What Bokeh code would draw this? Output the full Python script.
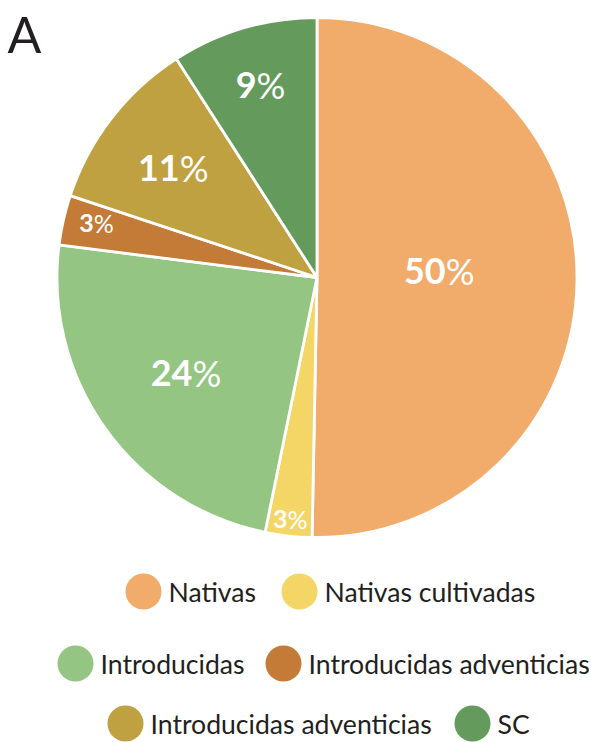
import numpy as np
from bokeh.plotting import figure
from bokeh.models import Range1d
from bokeh.embed import file_html
from bokeh.resources import INLINE
from bokeh.core.properties import value

# ---- data ----
categories = ["Nativas", "Nativas cultivadas", "Introducidas",
              "Introducidas adventicias", "Introducidas adventicias", "SC"]
percent = [50.3, 2.9, 23.8, 3.1, 10.8, 9.1]
colors = ["#F1AC6B", "#F4D667", "#94C582", "#C47B37", "#BFA142", "#659A5D"]
panel_label = "A"

# ---- layout ----
W, H = 591, 742
FONT = "Lato"
TXT = "#231F20"

def Y(img_y):  # image pixel row -> data y
    return H - img_y

p = figure(width=W, height=H, x_range=Range1d(0, W), y_range=Range1d(0, H),
           output_backend="svg", toolbar_location=None, min_border=0)
p.axis.visible = False
p.grid.visible = False
p.outline_line_color = None

cx, cy, R = 316.5, Y(277), 260
frac = np.array(percent, dtype=float) / sum(percent)
cum = np.cumsum(frac)
start = np.pi / 2 - 2 * np.pi * cum
end = np.pi / 2 - 2 * np.pi * (cum - frac)
p.wedge(x=cx, y=cy, radius=R, start_angle=start, end_angle=end,
        fill_color=colors, line_color="white", line_width=2.8)

# percentage labels: bold number + regular % sign
label_r = [0.47, 0.94, 0.62, 0.87, 0.70, 0.77]
label_dy = [8, 1, -2, 4, -2, 0]
mid = 2 * np.pi * (cum - frac / 2)
for i, v in enumerate(percent):
    fs = 36 if v >= 5 else 25
    lx = cx + label_r[i] * R * np.sin(mid[i])
    ly = cy + label_r[i] * R * np.cos(mid[i]) + label_dy[i]
    num = str(int(round(v)))
    nw = 0.58 * fs * len(num)
    pw = 0.80 * fs
    split = lx - (nw + pw) / 2 + nw
    p.text(x=[split], y=[ly], text=[num], text_font=value(FONT), text_font_style="bold",
           text_font_size=f"{fs}px", text_color="white", text_align="right", text_baseline="middle")
    p.text(x=[split], y=[ly], text=["%"], text_font=value(FONT), text_font_style="normal",
           text_font_size=f"{fs}px", text_color="white", text_align="left", text_baseline="middle")

# panel letter
p.text(x=[7], y=[Y(33)], text=[panel_label], text_font=value(FONT), text_font_size="50px",
       text_color=TXT, text_align="left", text_baseline="middle")

# legend (custom, three centred rows)
leg_x = [143, 299, 75, 283, 125, 472]
leg_y = [591, 591, 663, 663, 723, 723]
for i, name in enumerate(categories):
    p.circle(x=[leg_x[i]], y=[Y(leg_y[i])], radius=18, fill_color=colors[i], line_color=None)
    p.text(x=[leg_x[i] + 25], y=[Y(leg_y[i])], text=[name], text_font=value(FONT),
           text_font_size="26.6px", text_color=TXT, text_align="left", text_baseline="middle")

open("out.html", "w").write(file_html(p, INLINE))
